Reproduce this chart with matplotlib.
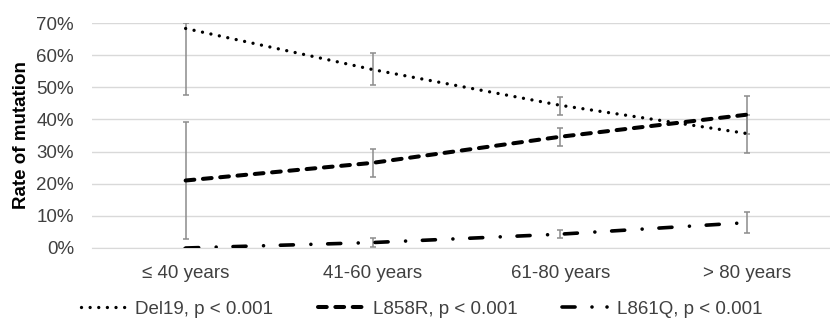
import matplotlib
matplotlib.use("Agg")
import matplotlib.pyplot as plt
from matplotlib.lines import Line2D
import numpy as np

plt.rcParams['font.family'] = ['Liberation Sans', 'DejaVu Sans']
plt.rcParams['lines.scale_dashes'] = False

# categories and series (fractions of 1)
age_groups = ['\u2264 40 years', '41-60 years', '61-80 years', '> 80 years']
del19 = [0.683, 0.555, 0.444, 0.356]
del19_lo = [0.475, 0.507, 0.415, 0.297]
del19_hi = [0.700, 0.607, 0.471, 0.415]
l858r = [0.210, 0.265, 0.346, 0.415]
l858r_lo = [0.027, 0.220, 0.318, 0.356]
l858r_hi = [0.392, 0.308, 0.373, 0.474]
l861q = [0.000, 0.017, 0.043, 0.079]
l861q_lo = [0.000, 0.003, 0.032, 0.047]
l861q_hi = [0.000, 0.030, 0.056, 0.112]
labels = ['Del19, p < 0.001', 'L858R, p < 0.001', 'L861Q, p < 0.001']

fs = 13.5
txt_col = '#404040'

fig = plt.figure(figsize=(8.3, 3.21), dpi=100)
ax = fig.add_axes([92 / 830, 1 - 248 / 321, 749 / 830, 225 / 321])

x = np.arange(len(age_groups))
err_col = '#8c8c8c'

styles = [
    dict(lw=2.4, dashes=(0.01, 6.2), dash_capstyle='round'),
    dict(lw=2.9, dashes=(6.3, 6.2), dash_capstyle='round'),
    dict(lw=2.6, dashes=(9.4, 12.6, 0.01, 12.1), dash_capstyle='round'),
]


def draw(vals, lo, hi, st):
    vals = np.array(vals)
    yerr = [vals - np.array(lo), np.array(hi) - vals]
    ax.errorbar(x, vals, yerr=yerr, fmt='none', ecolor=err_col, elinewidth=1.1,
                capsize=2.4, capthick=1.1, zorder=2)
    ax.plot(x, vals, color='black', zorder=3, **st)


draw(del19, del19_lo, del19_hi, styles[0])
draw(l858r, l858r_lo, l858r_hi, styles[1])
draw(l861q, l861q_lo, l861q_hi, styles[2])

ax.set_xlim(-0.5, 3.5)
ax.set_ylim(0, 0.7)
ticks = np.arange(0, 0.71, 0.1)
ax.set_yticks(ticks)
ax.set_yticklabels(['%d%%' % round(v * 100) for v in ticks])
ax.set_xticks(x)
ax.set_xticklabels(age_groups)
ax.grid(axis='y', color='#d9d9d9', lw=1.0)
ax.set_axisbelow(True)
for s in ['top', 'right', 'left']:
    ax.spines[s].set_visible(False)
ax.spines['bottom'].set_color('#d9d9d9')
ax.tick_params(axis='both', length=0, labelsize=fs, colors=txt_col)
ax.tick_params(axis='y', pad=13)
ax.tick_params(axis='x', pad=12)
ax.set_ylabel('Rate of mutation', fontsize=fs, fontweight='bold')
ax.yaxis.set_label_coords(-62 / 749, 0.5)

# legend handles (Excel draws the L861Q sample as dash-dot-dot)
leg_styles = [styles[0], styles[1],
              dict(lw=2.6, dashes=(9.4, 12.2, 0.01, 10.8, 0.01, 40),
                   dash_capstyle='round')]
handles = [Line2D([], [], color='black', **st) for st in leg_styles]
leg = fig.legend(handles=handles, labels=labels, loc='center left',
                 bbox_to_anchor=(81 / 830, 1 - 309 / 321), ncol=3, frameon=False,
                 fontsize=fs, handlelength=2.45, handletextpad=0.45,
                 columnspacing=2.4, borderaxespad=0, borderpad=0)
for t in leg.get_texts():
    t.set_color(txt_col)

fig.savefig('out.png', dpi=100)
